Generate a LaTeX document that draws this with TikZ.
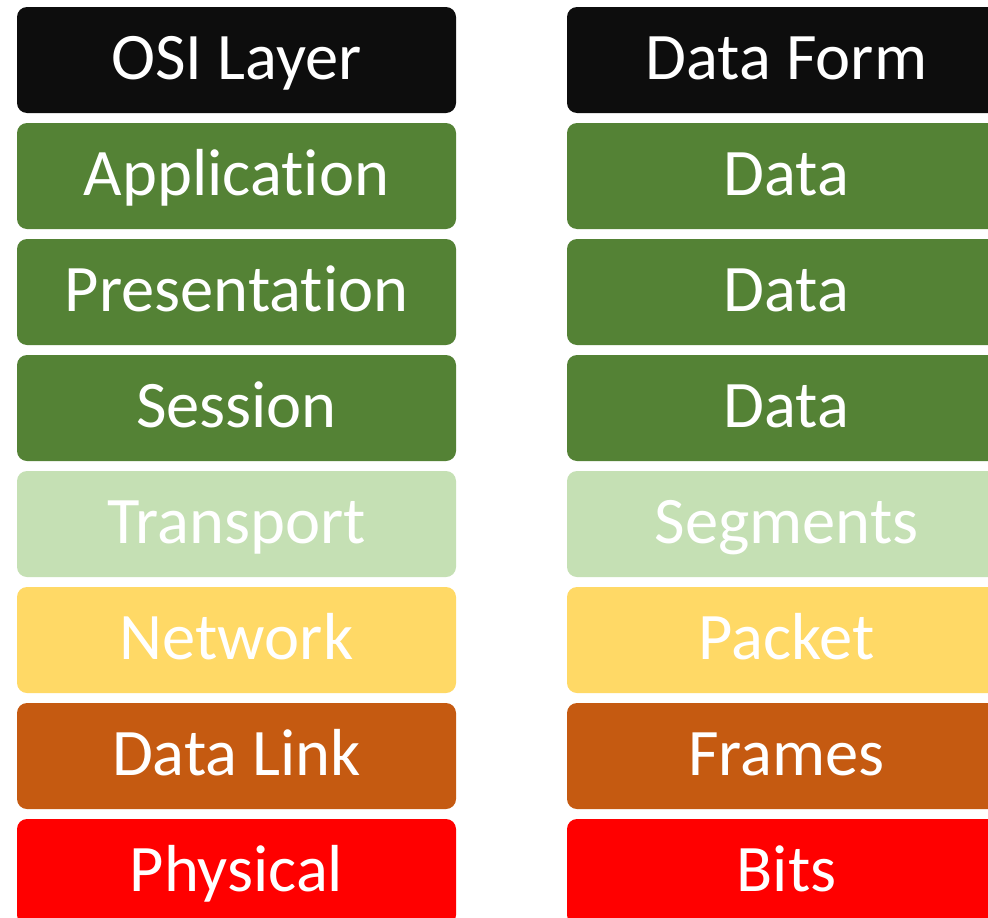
\documentclass[tikz,border=0pt]{standalone}
\usepackage{fontspec}
\setmainfont{Carlito}[Ligatures=NoCommon]
\usepackage{xcolor}
\usepackage{tikz}

\definecolor{blk}{HTML}{0D0D0D}
\definecolor{grn}{HTML}{548235}
\definecolor{lgrn}{HTML}{C5E0B4}
\definecolor{ylw}{HTML}{FFD966}
\definecolor{org}{HTML}{C55A11}
\definecolor{rd}{HTML}{FF0000}

\begin{document}
\begin{tikzpicture}[x=1pt,y=1pt,
    layerbox/.style={rectangle,rounded corners=10pt,minimum width=439pt,minimum height=106pt,
        inner sep=0pt,text height=43pt,text depth=5pt,text=white,
        font=\fontsize{66.5}{80}\selectfont}]
    \clip (0,0) rectangle (988,-918);
    \fill[white] (0,0) rectangle (988,-918);
    % left column
    \node[layerbox,fill=blk] (osi) at (236.5,-60) {OSI Layer};
    \node[layerbox,fill=grn] (app) at (236.5,-176) {Application};
    \node[layerbox,fill=grn] (pres) at (236.5,-292) {Presentation};
    \node[layerbox,fill=grn] (sess) at (236.5,-408) {Session};
    \node[layerbox,fill=lgrn] (trans) at (236.5,-524) {Transport};
    \node[layerbox,fill=ylw] (net) at (236.5,-640) {Network};
    \node[layerbox,fill=org] (link) at (236.5,-756) {Data Link};
    \node[layerbox,fill=rd] (phys) at (236.5,-872) {Physical};
    % right column
    \node[layerbox,fill=blk] (form) at (786.5,-60) {Data Form};
    \node[layerbox,fill=grn] (d1) at (786.5,-176) {Data};
    \node[layerbox,fill=grn] (d2) at (786.5,-292) {Data};
    \node[layerbox,fill=grn] (d3) at (786.5,-408) {Data};
    \node[layerbox,fill=lgrn] (seg) at (786.5,-524) {Segments};
    \node[layerbox,fill=ylw] (pkt) at (786.5,-640) {Packet};
    \node[layerbox,fill=org] (frm) at (786.5,-756) {Frames};
    \node[layerbox,fill=rd] (bits) at (786.5,-872) {Bits};
\end{tikzpicture}
\end{document}
